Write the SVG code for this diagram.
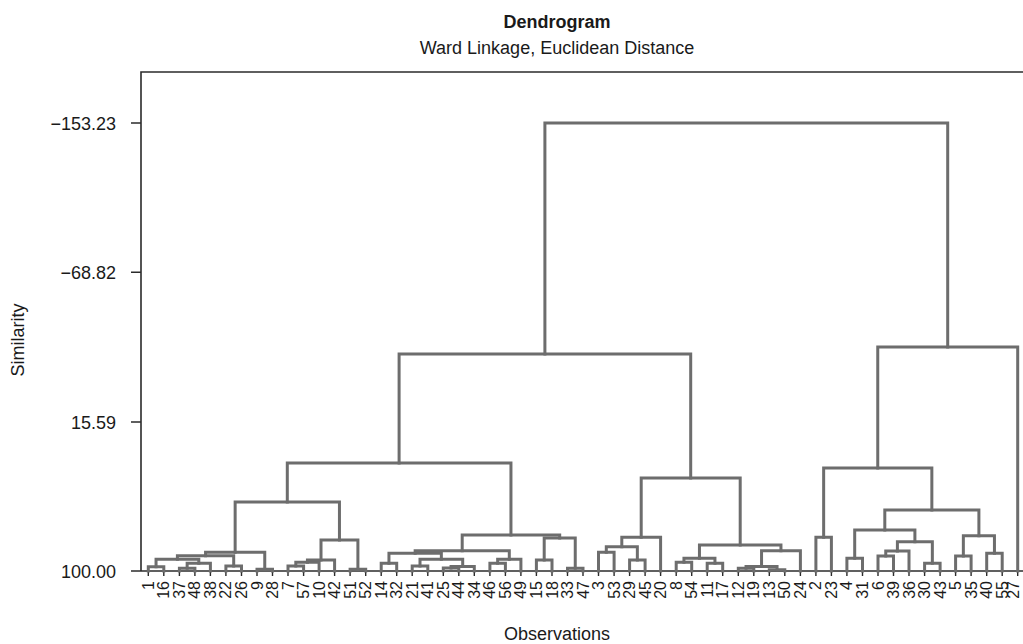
<svg xmlns="http://www.w3.org/2000/svg" width="1023" height="644" viewBox="0 0 1023 644">
<style>
text{font-family:"Liberation Sans",Arial,sans-serif;fill:#1a1a1a}
.ttl{font-size:18px;font-weight:bold}
.sub{font-size:18px}
.ax{font-size:18px}
.tk{font-size:18px;text-anchor:end}
.lf{font-size:16px;text-anchor:end}
.frame{stroke:#2b2b2b;stroke-width:1.6;fill:none}
.tick{stroke:#2b2b2b;stroke-width:1.4;fill:none}
.br{stroke:#6d6d6d;stroke-width:3;fill:none;stroke-linejoin:miter;stroke-linecap:square}
</style>
<rect width="1023" height="644" fill="#fff"/>
<g id="title">
<text class="ttl" x="557" y="28" text-anchor="middle">Dendrogram</text>
<text class="sub" x="557" y="54" text-anchor="middle">Ward Linkage, Euclidean Distance</text>
</g>
<g id="axes">
<path class="frame" d="M141 571 V72 H1023"/>
<path class="frame" d="M131 571 H1023"/>
<path class="tick" d="M131 123 H141 M131 272.3 H141 M131 422 H141"/>
<text class="tk" x="116" y="129.5">−153.23</text>
<text class="tk" x="116" y="278.8">−68.82</text>
<text class="tk" x="116" y="428.5">15.59</text>
<text class="tk" x="116" y="577.8">100.00</text>
<text class="ax" transform="translate(24,340) rotate(-90)" text-anchor="middle">Similarity</text>
<text class="ax" x="557" y="640" text-anchor="middle">Observations</text>
</g>
<g id="leaves">
<path class="tick" d="M148.3 571v5M163.8 571v5M179.4 571v5M194.9 571v5M210.4 571v5M225.9 571v5M241.5 571v5M257 571v5M272.5 571v5M288 571v5M303.6 571v5M319.1 571v5M334.6 571v5M350.1 571v5M365.7 571v5M381.2 571v5M396.7 571v5M412.2 571v5M427.8 571v5M443.3 571v5M458.8 571v5M474.3 571v5M489.9 571v5M505.4 571v5M520.9 571v5M536.4 571v5M552 571v5M567.5 571v5M583 571v5M598.5 571v5M614.1 571v5M629.6 571v5M645.1 571v5M660.6 571v5M676.2 571v5M691.7 571v5M707.2 571v5M722.7 571v5M738.3 571v5M753.8 571v5M769.3 571v5M784.8 571v5M800.4 571v5M815.9 571v5M831.4 571v5M846.9 571v5M862.5 571v5M878 571v5M893.5 571v5M909 571v5M924.6 571v5M940.1 571v5M955.6 571v5M971.1 571v5M986.7 571v5M1002.2 571v5M1017.7 571v5"/>
<g id="leaf-1"><text class="lf" transform="translate(153.8,581) rotate(-90)">1</text></g>
<g id="leaf-16"><text class="lf" transform="translate(169.3,581) rotate(-90)">16</text></g>
<g id="leaf-37"><text class="lf" transform="translate(184.9,581) rotate(-90)">37</text></g>
<g id="leaf-48"><text class="lf" transform="translate(200.4,581) rotate(-90)">48</text></g>
<g id="leaf-38"><text class="lf" transform="translate(215.9,581) rotate(-90)">38</text></g>
<g id="leaf-22"><text class="lf" transform="translate(231.4,581) rotate(-90)">22</text></g>
<g id="leaf-26"><text class="lf" transform="translate(247,581) rotate(-90)">26</text></g>
<g id="leaf-9"><text class="lf" transform="translate(262.5,581) rotate(-90)">9</text></g>
<g id="leaf-28"><text class="lf" transform="translate(278,581) rotate(-90)">28</text></g>
<g id="leaf-7"><text class="lf" transform="translate(293.5,581) rotate(-90)">7</text></g>
<g id="leaf-57"><text class="lf" transform="translate(309.1,581) rotate(-90)">57</text></g>
<g id="leaf-10"><text class="lf" transform="translate(324.6,581) rotate(-90)">10</text></g>
<g id="leaf-42"><text class="lf" transform="translate(340.1,581) rotate(-90)">42</text></g>
<g id="leaf-51"><text class="lf" transform="translate(355.6,581) rotate(-90)">51</text></g>
<g id="leaf-52"><text class="lf" transform="translate(371.2,581) rotate(-90)">52</text></g>
<g id="leaf-14"><text class="lf" transform="translate(386.7,581) rotate(-90)">14</text></g>
<g id="leaf-32"><text class="lf" transform="translate(402.2,581) rotate(-90)">32</text></g>
<g id="leaf-21"><text class="lf" transform="translate(417.7,581) rotate(-90)">21</text></g>
<g id="leaf-41"><text class="lf" transform="translate(433.3,581) rotate(-90)">41</text></g>
<g id="leaf-25"><text class="lf" transform="translate(448.8,581) rotate(-90)">25</text></g>
<g id="leaf-44"><text class="lf" transform="translate(464.3,581) rotate(-90)">44</text></g>
<g id="leaf-34"><text class="lf" transform="translate(479.8,581) rotate(-90)">34</text></g>
<g id="leaf-46"><text class="lf" transform="translate(495.4,581) rotate(-90)">46</text></g>
<g id="leaf-56"><text class="lf" transform="translate(510.9,581) rotate(-90)">56</text></g>
<g id="leaf-49"><text class="lf" transform="translate(526.4,581) rotate(-90)">49</text></g>
<g id="leaf-15"><text class="lf" transform="translate(541.9,581) rotate(-90)">15</text></g>
<g id="leaf-18"><text class="lf" transform="translate(557.5,581) rotate(-90)">18</text></g>
<g id="leaf-33"><text class="lf" transform="translate(573,581) rotate(-90)">33</text></g>
<g id="leaf-47"><text class="lf" transform="translate(588.5,581) rotate(-90)">47</text></g>
<g id="leaf-3"><text class="lf" transform="translate(604,581) rotate(-90)">3</text></g>
<g id="leaf-53"><text class="lf" transform="translate(619.6,581) rotate(-90)">53</text></g>
<g id="leaf-29"><text class="lf" transform="translate(635.1,581) rotate(-90)">29</text></g>
<g id="leaf-45"><text class="lf" transform="translate(650.6,581) rotate(-90)">45</text></g>
<g id="leaf-20"><text class="lf" transform="translate(666.1,581) rotate(-90)">20</text></g>
<g id="leaf-8"><text class="lf" transform="translate(681.7,581) rotate(-90)">8</text></g>
<g id="leaf-54"><text class="lf" transform="translate(697.2,581) rotate(-90)">54</text></g>
<g id="leaf-11"><text class="lf" transform="translate(712.7,581) rotate(-90)">11</text></g>
<g id="leaf-17"><text class="lf" transform="translate(728.2,581) rotate(-90)">17</text></g>
<g id="leaf-12"><text class="lf" transform="translate(743.8,581) rotate(-90)">12</text></g>
<g id="leaf-19"><text class="lf" transform="translate(759.3,581) rotate(-90)">19</text></g>
<g id="leaf-13"><text class="lf" transform="translate(774.8,581) rotate(-90)">13</text></g>
<g id="leaf-50"><text class="lf" transform="translate(790.3,581) rotate(-90)">50</text></g>
<g id="leaf-24"><text class="lf" transform="translate(805.9,581) rotate(-90)">24</text></g>
<g id="leaf-2"><text class="lf" transform="translate(821.4,581) rotate(-90)">2</text></g>
<g id="leaf-23"><text class="lf" transform="translate(836.9,581) rotate(-90)">23</text></g>
<g id="leaf-4"><text class="lf" transform="translate(852.4,581) rotate(-90)">4</text></g>
<g id="leaf-31"><text class="lf" transform="translate(868,581) rotate(-90)">31</text></g>
<g id="leaf-6"><text class="lf" transform="translate(883.5,581) rotate(-90)">6</text></g>
<g id="leaf-39"><text class="lf" transform="translate(899,581) rotate(-90)">39</text></g>
<g id="leaf-36"><text class="lf" transform="translate(914.5,581) rotate(-90)">36</text></g>
<g id="leaf-30"><text class="lf" transform="translate(930.1,581) rotate(-90)">30</text></g>
<g id="leaf-43"><text class="lf" transform="translate(945.6,581) rotate(-90)">43</text></g>
<g id="leaf-5"><text class="lf" transform="translate(961.1,581) rotate(-90)">5</text></g>
<g id="leaf-35"><text class="lf" transform="translate(976.6,581) rotate(-90)">35</text></g>
<g id="leaf-40"><text class="lf" transform="translate(992.2,581) rotate(-90)">40</text></g>
<g id="leaf-55"><text class="lf" transform="translate(1007.7,581) rotate(-90)">55</text></g>
<g id="leaf-27"><text class="lf" transform="translate(1019.2,581) rotate(-90)">27</text></g>
</g>
<g id="connectors" class="br">
<path d="M148.3 571V566.7H163.8V571"/>
<path d="M179.4 571V568.3H194.9V571"/>
<path d="M187.15 568.3V563.3H210.4V571"/>
<path d="M156.05 566.7V559.3H198.8V563.3"/>
<path d="M225.9 571V566H241.5V571"/>
<path d="M177.4 559.3V555.7H233.7V566"/>
<path d="M257 571V569.3H272.5V571"/>
<path d="M205.55 555.7V552.3H264.75V569.3"/>
<path d="M288 571V566H303.6V571"/>
<path d="M295.8 566V562.3H319.1V571"/>
<path d="M307.45 562.3V560H334.6V571"/>
<path d="M350.1 571V569.3H365.7V571"/>
<path d="M321 560V540H357.9V569.3"/>
<path d="M235.15 552.3V502H339.45V540"/>
<path d="M381.2 571V563.3H396.7V571"/>
<path d="M412.2 571V566H427.8V571"/>
<path d="M443.3 571V568H458.8V571"/>
<path d="M451.05 568V566.5H474.3V571"/>
<path d="M420 566V559.3H462.7V566.5"/>
<path d="M388.95 563.3V553.3H441.35V559.3"/>
<path d="M489.9 571V563.3H505.4V571"/>
<path d="M497.65 563.3V559.3H520.9V571"/>
<path d="M415.15 553.3V550.7H509.3V559.3"/>
<path d="M536.4 571V560H552V571"/>
<path d="M567.5 571V568.3H583V571"/>
<path d="M544.2 560V538H575.25V568.3"/>
<path d="M462.2 550.7V535H559.7V538"/>
<path d="M287.3 502V463H510.95V535"/>
<path d="M598.5 571V552.3H614.1V571"/>
<path d="M629.6 571V560H645.1V571"/>
<path d="M606.3 552.3V546.7H637.35V560"/>
<path d="M621.8 546.7V537.3H660.6V571"/>
<path d="M676.2 571V562.3H691.7V571"/>
<path d="M707.2 571V563.3H722.7V571"/>
<path d="M683.95 562.3V558.3H714.95V563.3"/>
<path d="M738.3 571V568.3H753.8V571"/>
<path d="M769.3 571V569.8H784.8V571"/>
<path d="M746.05 568.3V566.5H777.05V569.8"/>
<path d="M761.55 566.5V550.7H800.4V571"/>
<path d="M699.45 558.3V545H780.95V550.7"/>
<path d="M641.2 537.3V478H740.2V545"/>
<path d="M399.1 463V354H690.7V478"/>
<path d="M815.9 571V537.3H831.4V571"/>
<path d="M846.9 571V558.3H862.5V571"/>
<path d="M878 571V556H893.5V571"/>
<path d="M885.75 556V551H909V571"/>
<path d="M924.6 571V563.3H940.1V571"/>
<path d="M897.4 551V541.7H932.35V563.3"/>
<path d="M854.7 558.3V530H914.9V541.7"/>
<path d="M955.6 571V556H971.1V571"/>
<path d="M986.7 571V553.3H1002.2V571"/>
<path d="M963.35 556V535.7H994.45V553.3"/>
<path d="M884.8 530V510H978.9V535.7"/>
<path d="M823.65 537.3V468H931.85V510"/>
<path d="M877.75 468V347H1017.7V571"/>
<path d="M544.9 354V123H947.7V347"/>
</g>
</svg>
